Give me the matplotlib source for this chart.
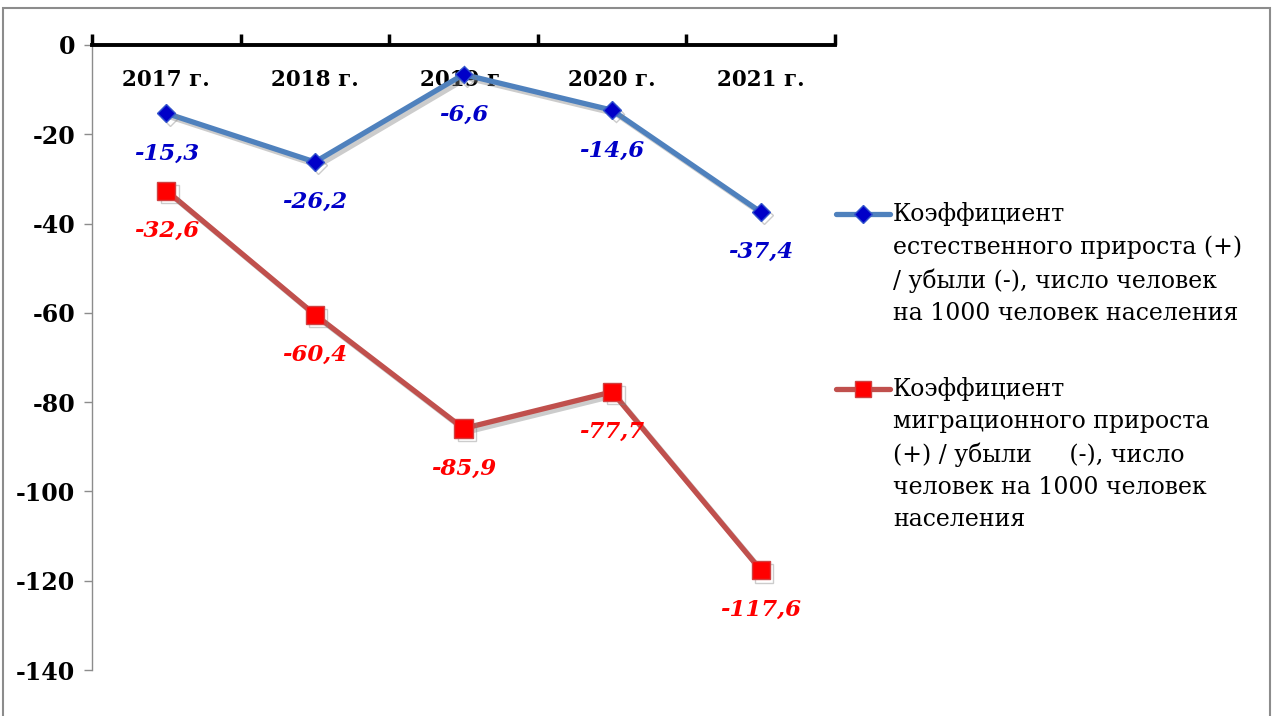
import matplotlib
matplotlib.use("Agg")
import matplotlib.pyplot as plt
import matplotlib.patheffects as pe
from matplotlib.lines import Line2D
from matplotlib.patches import Rectangle

years = ["2017 г.", "2018 г.", "2019 г.", "2020 г.", "2021 г."]
natural = [-15.3, -26.2, -6.6, -14.6, -37.4]
migration = [-32.6, -60.4, -85.9, -77.7, -117.6]
natural_labels = ["-15,3", "-26,2", "-6,6", "-14,6", "-37,4"]
migration_labels = ["-32,6", "-60,4", "-85,9", "-77,7", "-117,6"]
legend_labels = [
    "Коэффициент\nестественного прироста (+)\n/ убыли (-), число человек\nна 1000 человек населения",
    "Коэффициент\nмиграционного прироста\n(+) / убыли     (-), число\nчеловек на 1000 человек\nнаселения",
]
yticks = [0, -20, -40, -60, -80, -100, -120, -140]

plt.rcParams['font.family'] = ['DejaVu Serif']

W, H = 1278, 716
fig = plt.figure(figsize=(W / 100, H / 100), dpi=100)

def fx(px):
    return px / W

def fy(py):
    return 1 - py / H

# outer frame
fig.add_artist(Rectangle((fx(3), fy(719)), fx(1270) - fx(3), fy(8) - fy(719),
                         transform=fig.transFigure, fill=False,
                         edgecolor="#8c8c8c", linewidth=1.5))

ax = fig.add_axes([fx(92), fy(670), fx(835) - fx(92), fy(45) - fy(670)])
x = list(range(len(years)))

shadow = [pe.SimpleLineShadow(offset=(2.5, -2.5), shadow_color="#808080", alpha=0.4),
          pe.Normal()]

blue_line = "#4F81BD"
red_line = "#C0504D"
ax.plot(x, natural, color=blue_line, lw=3.8, marker="D", markersize=9,
        markerfacecolor="#0000C8", markeredgecolor="#3355cc", markeredgewidth=1,
        path_effects=shadow, zorder=3, clip_on=False)
ax.plot(x, migration, color=red_line, lw=3.8, marker="s", markersize=13,
        markerfacecolor="#FF0000", markeredgecolor="#D04040", markeredgewidth=1,
        path_effects=shadow, zorder=3, clip_on=False)

for xi, v, t in zip(x, natural, natural_labels):
    ax.annotate(t, (xi, v), xytext=(0, -29), textcoords="offset points",
                ha="center", va="center", color="#0000C8", fontsize=16.5,
                fontweight="bold", fontstyle="italic", zorder=5)
for xi, v, t in zip(x, migration, migration_labels):
    ax.annotate(t, (xi, v), xytext=(0, -29), textcoords="offset points",
                ha="center", va="center", color="#FF0000", fontsize=16.5,
                fontweight="bold", fontstyle="italic", zorder=5)

ax.set_xlim(-0.5, len(years) - 0.5)
ax.set_ylim(-140, 0)
ax.set_yticks(yticks)
ax.set_yticklabels([str(v) for v in yticks], fontsize=17, fontweight="bold")
ax.tick_params(axis="y", direction="out", length=6, width=1, color="#8c8c8c", pad=6)

ax.set_xticks(x)
ax.set_xticklabels(years, fontsize=15.5, fontweight="bold")
ax.set_xticks([i - 0.5 for i in range(len(years) + 1)], minor=True)
ax.xaxis.set_ticks_position("top")
ax.tick_params(axis="x", which="major", length=0, top=False, labeltop=True,
               bottom=False, labelbottom=False, pad=-33)
ax.tick_params(axis="x", which="minor", length=8, width=2.5, color="black",
               top=True, bottom=False, direction="out")

ax.spines["top"].set_linewidth(2.8)
ax.spines["top"].set_color("black")
ax.spines["left"].set_color("#8c8c8c")
ax.spines["left"].set_linewidth(1)
ax.spines["right"].set_visible(False)
ax.spines["bottom"].set_visible(False)

# legend, drawn manually (handle aligned with first line of text)
leg_lines = [blue_line, red_line]
leg_markers = [
    dict(marker="D", markersize=9, markerfacecolor="#0000C8", markeredgecolor="#3355cc"),
    dict(marker="s", markersize=11, markerfacecolor="#FF0000", markeredgecolor="#D04040"),
]
leg_y = [214, 389]
for ly, lab, lc, mk in zip(leg_y, legend_labels, leg_lines, leg_markers):
    fig.add_artist(Line2D([fx(836), fx(890)], [fy(ly), fy(ly)], lw=3.8, color=lc,
                          solid_capstyle="round", transform=fig.transFigure))
    fig.add_artist(Line2D([fx(863)], [fy(ly)], lw=0, transform=fig.transFigure, **mk))
    fig.text(fx(893), fy(ly - 12), lab, ha="left", va="top", fontsize=17,
             linespacing=1.5, transform=fig.transFigure)

fig.savefig("out.png", dpi=100)
